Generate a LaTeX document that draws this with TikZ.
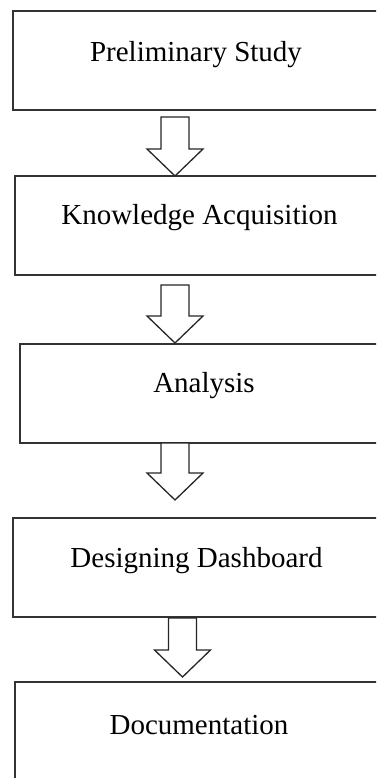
\documentclass[tikz,border=0pt]{standalone}
\usepackage{fontspec}
\setmainfont{Liberation Serif}
\usepackage{xcolor}
\usepackage{tikz}
\usetikzlibrary{calc}

\tikzset{
  stagebox/.style={draw=black!80, line width=1.5pt, minimum width=375pt, minimum height=99pt,
    inner sep=0pt, outer sep=0pt, anchor=north west},
  stagetext/.style={inner sep=0pt, font=\fontsize{29}{34}\selectfont},
  flowarrow/.style={draw=black!85, line width=1.3pt, fill=white, line join=miter}
}

% hollow block arrow from #1 down to the tip #2
\newcommand{\hollowarrow}[2]{%
  \draw[flowarrow] ($(#1)+(-14,0)$) -- ($(#2)+(-14,-27)$) -- ($(#2)+(-28,-27)$) -- (#2)
    -- ($(#2)+(28,-27)$) -- ($(#2)+(14,-27)$) -- ($(#1)+(14,0)$) -- cycle;}

\begin{document}
\begin{tikzpicture}[x=1pt,y=-1pt]
            \useasboundingbox (0,0) rectangle (376,778);
            \clip (0,0) rectangle (376,778);

            \node[stagebox] (prelim) at (13,11) {};
            \node[stagebox] (knowledge) at (15,176) {};
            \node[stagebox] (analysis) at (20,344) {};
            \node[stagebox] (designing) at (13,518) {};
            \node[stagebox] (documentation) at (15,682) {};

            \node[stagetext] (prelimtext) at (196,55) {Preliminary Study};
            \node[stagetext] (knowledgetext) at (199.5,218) {Knowledge Acquisition};
            \node[stagetext] (analysistext) at (204,386) {Analysis};
            \node[stagetext] (designingtext) at (196.5,561) {Designing Dashboard};
            \node[stagetext] (documentationtext) at (199,725) {Documentation};

            \coordinate (a1s) at (175,117);
            \coordinate (a1e) at (175,176);
            \coordinate (a2s) at (175,285);
            \coordinate (a2e) at (175,343);
            \coordinate (a3s) at (175,443);
            \coordinate (a3e) at (175,500);
            \coordinate (a4s) at (182.5,618);
            \coordinate (a4e) at (182.5,677);

            \hollowarrow{a1s}{a1e}
            \hollowarrow{a2s}{a2e}
            \hollowarrow{a3s}{a3e}
            \hollowarrow{a4s}{a4e}
          \end{tikzpicture}
\end{document}
